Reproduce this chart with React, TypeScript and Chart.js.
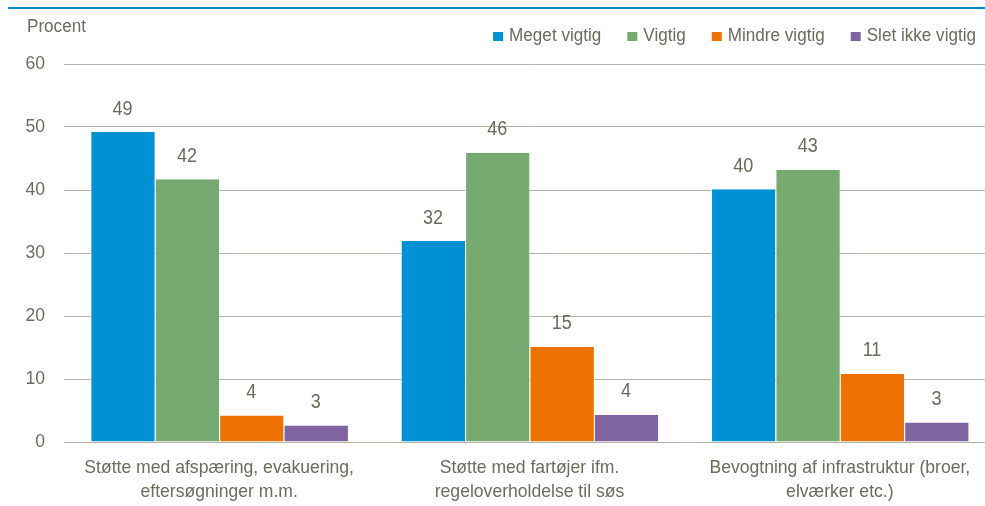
import React, { useEffect, useRef } from "react";
import { Chart, registerables } from "chart.js";

Chart.register(...registerables);

const categories: string[][] = [
  ["Støtte med afspæring, evakuering,", "eftersøgninger m.m."],
  ["Støtte med fartøjer ifm.", "regeloverholdelse til søs"],
  ["Bevogtning af infrastruktur (broer,", "elværker etc.)"],
];
const seriesNames = ["Meget vigtig", "Vigtig", "Mindre vigtig", "Slet ikke vigtig"];
const megetVigtig = [49.2, 31.9, 40.1];
const vigtig = [41.7, 45.9, 43.2];
const mindreVigtig = [4.2, 15.1, 10.8];
const sletIkkeVigtig = [2.6, 4.3, 3.1];
const yTicks = [0, 10, 20, 30, 40, 50, 60];
const yAxisTitle = "Procent";

const colors = ["#0090D4", "#77AA70", "#EE7203", "#8064A2"];
const textColor = "#6B6B5E";
const gridColor = "#B4B4A6";
const FONT = "'Liberation Sans', Arial, sans-serif";
const SX = 0.95;

function drawText(
  ctx: CanvasRenderingContext2D,
  text: string,
  x: number,
  y: number,
  size: number,
  align: CanvasTextAlign,
  baseline: CanvasTextBaseline,
  sx: number = SX
) {
  ctx.save();
  ctx.font = `${size}px ${FONT}`;
  ctx.fillStyle = textColor;
  ctx.textAlign = align;
  ctx.textBaseline = baseline;
  ctx.translate(x, y);
  ctx.scale(sx, 1);
  ctx.fillText(text, 0, 0);
  ctx.restore();
}

export default function App() {
  const ref = useRef<HTMLCanvasElement | null>(null);

  useEffect(() => {
    if (!ref.current) return;
    const overlay = {
      id: "overlay",
      afterDatasetsDraw(chart: any) {
        const ctx = chart.ctx;
        chart.data.datasets.forEach((ds: any, i: number) => {
          const meta = chart.getDatasetMeta(i);
          meta.data.forEach((el: any, j: number) => {
            drawText(ctx, String(Math.round(ds.data[j])), el.x, el.y - 23, 20, "center", "middle", 0.9);
          });
        });
      },
      afterDraw(chart: any) {
        const ctx = chart.ctx;
        const xs = chart.scales.x;
        const ys = chart.scales.y;
        // y tick labels
        yTicks.forEach((v) => {
          drawText(ctx, String(v), 45, ys.getPixelForValue(v), 18.5, "right", "middle");
        });
        // x category labels
        (chart.data.labels as string[][]).forEach((lines, i) => {
          const px = xs.getPixelForTick(i);
          lines.forEach((line, k) => {
            drawText(ctx, line, px, chart.chartArea.bottom + 26 + k * 24, 18.5, "center", "middle");
          });
        });
        ctx.save();
        // top rule
        ctx.fillStyle = "#0088CC";
        ctx.fillRect(8, 7, 990, 2);
        ctx.restore();
        // axis title
        drawText(ctx, yAxisTitle, 27, 32, 18, "left", "alphabetic");
        // legend, right aligned at 976
        ctx.save();
        ctx.font = `18px ${FONT}`;
        const items = chart.data.datasets.map((d: any) => ({
          label: d.label,
          color: d.backgroundColor,
          w: ctx.measureText(d.label).width * SX,
        }));
        ctx.restore();
        const total = items.reduce((s: number, it: any) => s + 16 + it.w, 0) + 26 * (items.length - 1);
        let x = 976 - total;
        items.forEach((it: any) => {
          ctx.save();
          ctx.fillStyle = it.color;
          ctx.fillRect(x, 32, 10, 9);
          ctx.restore();
          drawText(ctx, it.label, x + 16, 41, 18, "left", "alphabetic");
          x += 16 + it.w + 26;
        });
      },
    };

    const series = [megetVigtig, vigtig, mindreVigtig, sletIkkeVigtig];
    const chart = new Chart(ref.current, {
      type: "bar",
      data: {
        labels: categories,
        datasets: series.map((d, i) => ({
          label: seriesNames[i],
          data: d,
          backgroundColor: colors[i],
          borderColor: "#ffffff",
          borderWidth: { left: 1, right: 0, top: 0, bottom: 0 },
          borderSkipped: false,
          categoryPercentage: 0.83,
          barPercentage: 1,
        })),
      },
      options: {
        responsive: false,
        animation: false,
        layout: { padding: { left: 0, right: 5, top: 64, bottom: 0 } },
        plugins: {
          legend: { display: false },
          title: { display: false },
          tooltip: { enabled: false },
        },
        scales: {
          x: {
            grid: { display: false, drawTicks: false },
            border: { display: false },
            ticks: { display: false, autoSkip: false, maxRotation: 0 },
            afterFit(scale: any) {
              scale.height = 64;
            },
          },
          y: {
            min: 0,
            max: 60,
            afterBuildTicks(scale: any) {
              scale.ticks = yTicks.map((v) => ({ value: v }));
            },
            grid: { color: gridColor, lineWidth: 1, drawTicks: false },
            border: { display: false },
            ticks: { display: false },
            afterFit(scale: any) {
              scale.width = 64;
            },
          },
        },
      },
      plugins: [overlay],
    });
    return () => chart.destroy();
  }, []);

  return (
    <div
      style={{
        position: "absolute",
        left: 0,
        top: 0,
        width: 985,
        height: 506,
        overflow: "hidden",
        background: "#ffffff",
      }}
    >
      <canvas ref={ref} width={1000} height={506} style={{ width: 1000, height: 506, display: "block" }} />
    </div>
  );
}
